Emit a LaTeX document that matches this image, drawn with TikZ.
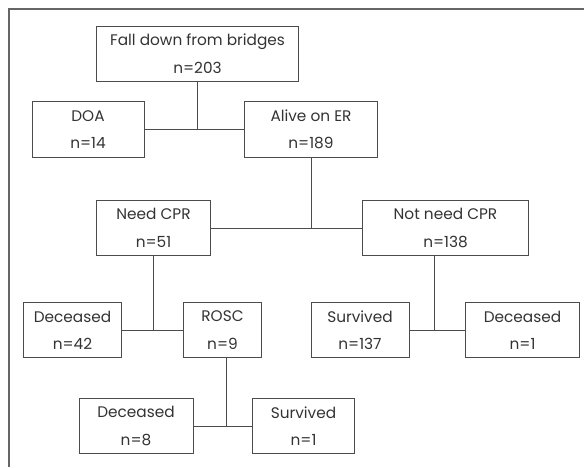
\documentclass[tikz,border=0pt]{standalone}
\usepackage{fontspec}
\setmainfont{Poppins}
\usepackage{tikz}

\begin{document}
\begin{tikzpicture}[
  x=0.75pt,
  y=-0.75pt,
  frame/.style={draw=black!60,line width=0.8pt},
  box/.style={draw=black!70,line width=0.6pt,text=black!80,align=center,
    inner sep=0pt,minimum height=41.5pt,font=\fontsize{11.5}{20.5}\selectfont},
  link/.style={draw=black!70,line width=0.6pt}
]
\useasboundingbox (0,0) rectangle (584,467);
\draw[frame] (584,9) -- (9,9) -- (9,467);
\node[box,minimum width=152pt] (fall) at (197.5,53.75) {Fall down from bridges\\n=203};
\node[box,minimum width=84pt] (doa) at (88,129.5) {DOA\\n=14};
\node[box,minimum width=100pt] (alive) at (311,129.5) {Alive on ER\\n=189};
\node[box,minimum width=85pt] (needcpr) at (153.5,228) {Need CPR\\n=51};
\node[box,minimum width=124pt] (notneed) at (445.5,228) {Not need CPR\\n=138};
\node[box,minimum width=73pt] (dead42) at (72.5,330) {Deceased\\n=42};
\node[box,minimum width=59pt] (rosc) at (222.5,330) {ROSC\\n=9};
\node[box,minimum width=73.5pt] (surv137) at (360,330) {Survived\\n=137};
\node[box,minimum width=85pt] (dead1) at (522.5,330) {Deceased\\n=1};
\node[box,minimum width=85.5pt] (dead8) at (136,426) {Deceased\\n=8};
\node[box,minimum width=76pt] (surv1) at (303.5,426) {Survived\\n=1};
\coordinate (jnot) at (434,330);
\coordinate (jrosc) at (226,426);
\draw[link] (fall.south) -- (fall.south |- doa.east);
\draw[link] (doa.east) -- (alive.west);
\draw[link] (alive.south) -- (alive.south |- needcpr.east);
\draw[link] (needcpr.east) -- (notneed.west);
\draw[link] (needcpr.south) -- (needcpr.south |- dead42.east);
\draw[link] (dead42.east) -- (rosc.west);
\draw[link] (notneed.south -| jnot) -- (jnot);
\draw[link] (surv137.east) -- (dead1.west);
\draw[link] (rosc.south -| jrosc) -- (jrosc);
\draw[link] (dead8.east) -- (surv1.west);
\end{tikzpicture}
\end{document}
